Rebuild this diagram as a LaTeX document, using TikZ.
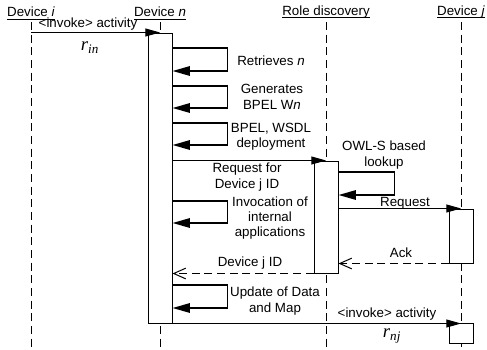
\documentclass[tikz,border=0pt]{standalone}
\usepackage{fontspec}
\setmainfont{Liberation Sans}
\newfontfamily\ratefont{Liberation Serif}
\usetikzlibrary{arrows.meta,positioning}
\tikzset{
  lbl/.style={font=\fontsize{10}{11.5}\selectfont,align=center,inner sep=0pt},
  head/.style={lbl},
  life/.style={line width=0.6pt,dash pattern=on 6pt off 3.5pt},
  act/.style={draw,line width=0.75pt,fill=white,inner sep=0pt,minimum width=18pt},
  msg/.style={-{Triangle[length=11pt,width=6pt]},line width=0.75pt},
  ret/.style={-{Straight Barb[length=9pt,width=8pt]},line width=0.75pt,dash pattern=on 6pt off 3.5pt},
  selfloop/.style={-{Triangle[length=13pt,width=7pt]},line width=1.4pt},
  rate/.style={font=\ratefont\fontsize{14}{14}\selectfont\itshape,inner sep=0pt}
}
\begin{document}
\begin{tikzpicture}[x=0.75pt,y=-0.75pt]
\useasboundingbox (0,0) rectangle (487,350);
% lifelines
\node[head] (devi) at (31,12) {Device \textit{i}};
\node[head] (devn) at (160,12) {Device \textit{n}};
\node[head] (role) at (326,12) {Role discovery};
\node[head] (devj) at (461,12) {Device \textit{j}};
\foreach \h in {devi,devn,role,devj}{
  \draw[line width=0.6pt] ([yshift=-1.6pt]\h.base west) -- ([yshift=-1.6pt]\h.base east);
  \draw[life] (\h |- 0,22) -- (\h |- 0,348);
}
% activations
\node[act,minimum height=217.5pt] (actn) at (160,178) {};
\node[act,minimum height=84pt] (actr) at (326,217) {};
\node[act,minimum height=40.5pt] (actj) at (461,236) {};
\node[act,minimum height=15pt] (actk) at (461,333) {};
% messages
\draw[msg] (devi |- actn.north) -- (devn |- actn.north);
\node[lbl] (inva) at (88,24) {\textless invoke\textgreater{} activity};
\node[rate] (rin) at (90,48) {r\textsubscript{in}};
\foreach \ya/\yb in {48/71,86/108,123/145,201/223,285/308}
  \draw[selfloop] (actn.east |- 0,\ya) -- ++(55,0) |- (actn.east |- 0,\yb);
\node[lbl,anchor=west] (retr) at (237,61) {Retrieves \textit{n}};
\node[lbl] (gen) at (272,97) {Generates\\BPEL W\textit{n}};
\node[lbl] (depl) at (271,137) {BPEL, WSDL\\deployment};
\draw[msg] (actn.east |- actr.north) -- (role |- actr.north);
\node[lbl] (reqid) at (247,177) {Request for\\Device j ID};
\node[lbl] (invoc) at (270,218) {Invocation of\\internal\\applications};
\draw[selfloop] (actr.east |- 0,172) -- ++(56,0) |- (actr.east |- 0,195);
\node[lbl] (owl) at (384,155) {OWL-S based\\lookup};
\draw[msg] (actr.east |- actj.north) -- (devj |- actj.north);
\node[lbl] (req) at (405,203) {Request};
\draw[ret] (actj.south west) -- (actr.east |- actj.south);
\node[lbl] (ack) at (401,253) {Ack};
\draw[ret] (actr.south west) -- (actn.east |- actr.south);
\node[lbl] (jid) at (250,263) {Device j ID};
\node[lbl] (upd) at (275,301) {Update of Data\\and Map};
\draw[msg] (actn.south east) -- (devj |- actn.south);
\node[lbl] (invb) at (387,314) {\textless invoke\textgreater{} activity};
\node[rate] (rnj) at (392,336) {r\textsubscript{nj}};
\end{tikzpicture}
\end{document}
